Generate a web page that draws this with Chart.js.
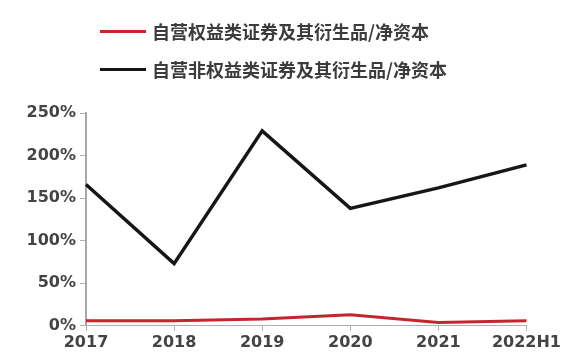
<!DOCTYPE html>
<html>
<head>
<meta charset="utf-8">
<script src="https://cdn.jsdelivr.net/npm/chart.js@4/dist/chart.umd.min.js"></script>
<style>
  body { margin: 0; background: #fff; }
  #wrap { position: relative; width: 563px; height: 361px; }
  #legend { position: absolute; left: 100px; top: 12px; font-family: "Noto Sans CJK SC", sans-serif; font-size: 18px; font-weight: bold; color: #3c3c3c; }
  .item { display: flex; align-items: center; height: 38px; }
  .swatch { width: 46px; height: 3px; margin-right: 6px; }
</style>
</head>
<body>
<div id="wrap">
  <canvas id="lineChart" width="563" height="361"></canvas>
  <div id="legend"></div>
</div>
<script>
const years = ["2017", "2018", "2019", "2020", "2021", "2022H1"];
const seriesNames = ["自营权益类证券及其衍生品/净资本", "自营非权益类证券及其衍生品/净资本"];
const equityRatio = [6, 6, 8, 13, 4, 6];
const nonEquityRatio = [166, 73, 229, 138, 162, 189];
const yTicks = [0, 50, 100, 150, 200, 250];

const colors = ["#c4262e", "#161616"];

const chart = new Chart(document.getElementById("lineChart"), {
  type: "line",
  data: {
    labels: years,
    datasets: [
      {
        label: seriesNames[0],
        data: equityRatio,
        borderColor: colors[0],
        borderWidth: 3,
        pointRadius: 0,
        tension: 0,
      },
      {
        label: seriesNames[1],
        data: nonEquityRatio,
        borderColor: colors[1],
        borderWidth: 3.5,
        pointRadius: 0,
        tension: 0,
      },
    ],
  },
  options: {
    responsive: false,
    animation: false,
    layout: { padding: { top: 113, left: 0, right: 0, bottom: 7 } },
    plugins: { legend: { display: false }, tooltip: { enabled: false } },
    scales: {
      x: {
        grid: { drawOnChartArea: false, drawTicks: true, tickLength: 5, color: "#b0b0b0" },
        border: { color: "#b0b0b0", width: 1 },
        ticks: {
          color: "#444",
          padding: 2,
          maxRotation: 0,
          autoSkip: false,
          font: { family: "DejaVu Sans", size: 16, weight: "bold" },
        },
      },
      y: {
        min: 0,
        max: 250,
        afterBuildTicks: (scale) => {
          scale.ticks = yTicks.map((v) => ({ value: v }));
        },
        afterFit: (scale) => {
          scale.width = 86;
        },
        grid: { drawOnChartArea: false, drawTicks: true, tickLength: 6, color: "#b0b0b0" },
        border: { color: "#a8a8a8", width: 2 },
        ticks: {
          color: "#444",
          padding: 4,
          callback: (v) => v + "%",
          font: { family: "DejaVu Sans", size: 16, weight: "bold" },
        },
      },
    },
  },
});

// legend stacked in two rows, built from the chart's datasets
const legendBox = document.getElementById("legend");
chart.data.datasets.forEach((ds) => {
  const row = document.createElement("div");
  row.className = "item";
  const sw = document.createElement("span");
  sw.className = "swatch";
  sw.style.background = ds.borderColor;
  const txt = document.createElement("span");
  txt.innerText = ds.label;
  row.appendChild(sw);
  row.appendChild(txt);
  legendBox.appendChild(row);
});
</script>
</body>
</html>
